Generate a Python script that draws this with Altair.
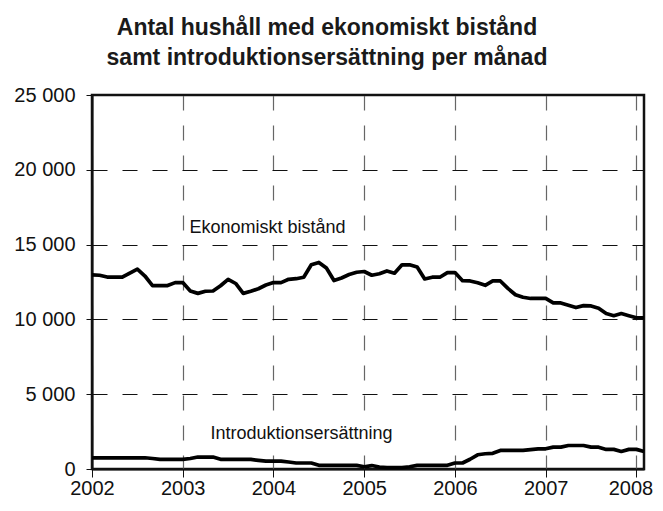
import altair as alt
import pandas as pd

# Monthly values, Jan 2002 .. Feb 2008
eko_2002 = [12970, 12950, 12830, 12820, 12820, 13100, 13360, 12900, 12260, 12260, 12260, 12460]
eko_2003 = [12460, 11900, 11740, 11880, 11900, 12250, 12680, 12400, 11740, 11880, 12050, 12300]
eko_2004 = [12460, 12460, 12680, 12720, 12820, 13650, 13810, 13430, 12600, 12770, 13000, 13150]
eko_2005 = [13200, 12950, 13050, 13240, 13090, 13650, 13650, 13500, 12700, 12820, 12820, 13130]
eko_2006 = [13130, 12590, 12570, 12450, 12280, 12570, 12570, 12070, 11650, 11480, 11400, 11400]
eko_2007 = [11400, 11100, 11100, 10950, 10790, 10920, 10900, 10750, 10390, 10250, 10390, 10250]
eko_2008 = [10110, 10110]

int_2002 = [750, 750, 750, 750, 750, 750, 750, 750, 700, 640, 640, 640]
int_2003 = [640, 700, 800, 800, 800, 650, 640, 640, 640, 640, 580, 530]
int_2004 = [530, 530, 470, 400, 400, 400, 245, 245, 245, 245, 245, 245]
int_2005 = [150, 230, 130, 90, 90, 90, 150, 245, 245, 245, 245, 245]
int_2006 = [400, 400, 650, 950, 1020, 1050, 1240, 1240, 1240, 1240, 1300, 1350]
int_2007 = [1350, 1460, 1460, 1570, 1570, 1570, 1460, 1460, 1310, 1310, 1175, 1310]
int_2008 = [1310, 1175]

years = [2002, 2003, 2004, 2005, 2006, 2007, 2008]
eko_by_year = [eko_2002, eko_2003, eko_2004, eko_2005, eko_2006, eko_2007, eko_2008]
int_by_year = [int_2002, int_2003, int_2004, int_2005, int_2006, int_2007, int_2008]

series_names = ["Ekonomiskt bistånd", "Introduktionsersättning"]
label_x = [2003.934, 2004.309]
label_y = [15800, 2020]
# white boxes behind the series labels
box_x1 = [2003.03, 2003.245]
box_x2 = [2004.84, 2005.37]
box_y1 = [15360, 1660]
box_y2 = [17150, 3260]

y_ticks = [0, 5000, 10000, 15000, 20000, 25000]

rows = []
for name, by_year in zip(series_names, [eko_by_year, int_by_year]):
    for yr, vals in zip(years, by_year):
        for m, v in enumerate(vals):
            rows.append({"serie": name, "t": yr + m / 12.0, "v": v})
df = pd.DataFrame(rows)
labels = pd.DataFrame({"serie": series_names, "t": label_x, "v": label_y,
                       "x1": box_x1, "x2": box_x2, "y1": box_y1, "y2": box_y2})

FONT = "Liberation Sans"
xscale = alt.Scale(domain=[2002, 2008 + 1 / 12], nice=False, zero=False)
yscale = alt.Scale(domain=[0, 25000], nice=False)

xaxis = alt.Axis(values=years, format="d", title=None, labelFontSize=20, labelFont=FONT,
                 labelColor="#111", tickSize=8, tickColor="#111", tickWidth=1,
                 labelPadding=1, domainColor="#111", domainWidth=2,
                 labelOffset={"condition": {"test": "datum.value == 2008", "value": -6}, "value": 0},
                 grid=True, gridColor="#666", gridWidth=1.2, gridDash=[15, 15],
                 labelOverlap=False, labelFlush=False)
yaxis = alt.Axis(values=y_ticks, format=",d", labelExpr="replace(datum.label, ',', ' ')",
                 title=None, labelFontSize=20, labelFont=FONT, labelColor="#111",
                 tickSize=6, tickColor="#111", tickWidth=1, labelPadding=11,
                 domainColor="#111", domainWidth=2,
                 grid=True, gridColor="#111", gridWidth=1, gridDash=[15, 15])

boxes = alt.Chart(labels).mark_rect(color="white").encode(
    x=alt.X("x1:Q", scale=xscale, axis=xaxis),
    x2="x2:Q",
    y=alt.Y("y1:Q", scale=yscale, axis=yaxis),
    y2="y2:Q",
)

lines = alt.Chart(df).mark_line(color="black", strokeWidth=3.7, strokeJoin="round").encode(
    x=alt.X("t:Q", scale=xscale),
    y=alt.Y("v:Q", scale=yscale),
    detail="serie:N",
)

texts = alt.Chart(labels).mark_text(font=FONT, fontSize=18, color="#111",
                                     align="center", baseline="alphabetic").encode(
    x=alt.X("t:Q", scale=xscale),
    y=alt.Y("v:Q", scale=yscale),
    text="serie:N",
)

chart = alt.layer(boxes, lines, texts).properties(
    width=552,
    height=374,
    autosize=alt.AutoSizeParams(type="none"),
    padding={"left": 84, "top": 87, "right": 11, "bottom": 28},
    title=alt.TitleParams(
        ["Antal hushåll med ekonomiskt bistånd", "samt introduktionsersättning per månad"],
        font=FONT, fontSize=23, fontWeight="bold", color="#1a1a1a",
        lineHeight=30, anchor="middle", offset=15, dx=-41,
    ),
).configure_view(stroke="#111", strokeWidth=2.5)

chart.save("out.html", embed_options={"renderer": "svg", "actions": False})
